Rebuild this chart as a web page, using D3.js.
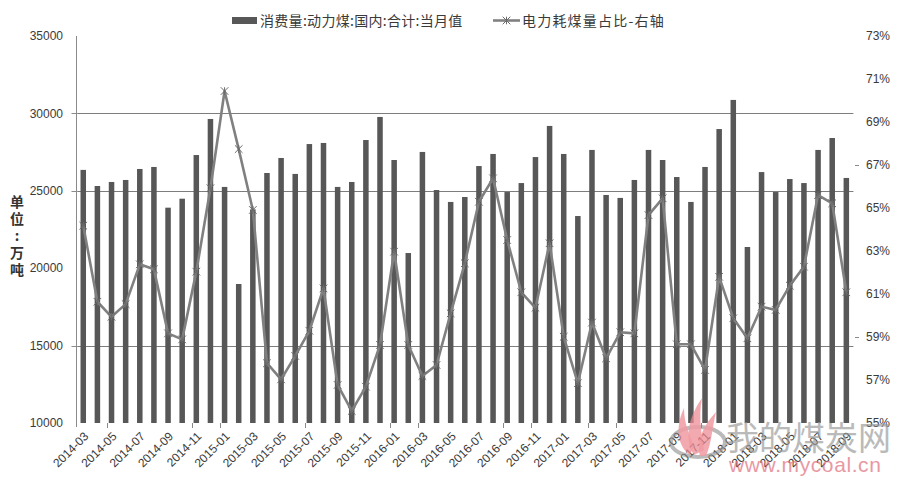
<!DOCTYPE html>
<html>
<head>
<meta charset="utf-8">
<script src="https://cdn.jsdelivr.net/npm/d3@7/dist/d3.min.js"></script>
<style>
  body { margin: 0; background: #fff; }
  svg { display: block; font-family: "Liberation Sans", Arial, "Noto Sans CJK SC", sans-serif; }
</style>
</head>
<body>
<script>
// ---------------- DATA ----------------
const categories = [
  "2014-03","2014-04","2014-05","2014-06","2014-07","2014-08","2014-09","2014-10","2014-11","2014-12",
  "2015-01","2015-02","2015-03","2015-04","2015-05","2015-06","2015-07","2015-08","2015-09","2015-10","2015-11","2015-12",
  "2016-01","2016-02","2016-03","2016-04","2016-05","2016-06","2016-07","2016-08","2016-09","2016-10","2016-11","2016-12",
  "2017-01","2017-02","2017-03","2017-04","2017-05","2017-06","2017-07","2017-08","2017-09","2017-10","2017-11","2017-12",
  "2018-01","2018-02","2018-03","2018-04","2018-05","2018-06","2018-07","2018-08","2018-09"
];
// 消费量:动力煤:国内:合计:当月值 (万吨)
const consumption = [
  26350,25310,25570,25700,26410,26540,23910,24490,27310,29640,
  25250,18980,23800,26150,27120,26090,28020,28090,25250,25570,28280,29770,
  26990,20980,27510,25050,24280,24600,26600,27380,24920,25500,27180,29190,
  27380,23370,27640,24730,24540,25700,27640,26990,25890,24280,26540,28990,
  30870,21370,26210,24920,25760,25500,27640,28410,25830
];
// 电力耗煤量占比 (%), right axis
const powerShare = [
  64.18,60.64,59.94,60.53,62.38,62.15,59.17,58.89,62.04,65.92,
  70.44,67.74,64.91,57.78,57.03,58.12,59.29,61.26,56.77,55.56,56.69,58.63,
  62.97,58.63,57.19,57.70,60.10,62.43,65.29,66.38,63.51,61.08,60.36,63.36,
  59.01,56.85,59.67,58.01,59.22,59.17,64.67,65.45,58.66,58.66,57.47,61.80,
  59.87,58.94,60.41,60.26,61.39,62.27,65.60,65.22,61.08
];
const leftTickValues = [10000,15000,20000,25000,30000,35000];
const leftGridValues = [15000,25000,30000];
const rightTickValues = [55,57,59,61,63,65,67,69,71,73];
const rightTickMarkValues = [59,67];
const xLabelCategories = categories.filter((d,i) => i % 2 === 0);
const xTickAfterCategories = ["2014-04","2014-10","2014-12","2015-06","2015-12","2016-02","2016-08","2016-10","2017-02","2017-04","2017-10"];
const seriesNames = ["消费量:动力煤:国内:合计:当月值", "电力耗煤量占比-右轴"];
const yAxisTitle = "单位:万吨";

// ---------------- CHART ----------------
const W = 900, H = 482;
const plot = {left: 76.2, right: 853.4, top: 36, bottom: 423};
const svg = d3.select("body").append("svg").attr("width", W).attr("height", H);

const x = d3.scaleBand().domain(categories).range([plot.left, plot.right])
  .paddingInner(0.61).paddingOuter(0.305);
const cx = d => x(d) + x.bandwidth() / 2;
const yL = d3.scaleLinear().domain([10000, 35000]).range([plot.bottom, plot.top]);
const yR = d3.scaleLinear().domain([55, 73]).range([plot.bottom, plot.top]);

const textColor = "#3a3a3a";
const gridColor = "#7d7d7d";

// gridlines
svg.append("g").selectAll("line").data(leftGridValues).join("line")
  .attr("x1", plot.left + 1).attr("x2", plot.right)
  .attr("y1", d => Math.round(yL(d)) + 0.5).attr("y2", d => Math.round(yL(d)) + 0.5)
  .attr("stroke", gridColor).attr("stroke-width", 1);

// bars
svg.append("g").selectAll("rect").data(categories).join("rect")
  .attr("x", d => x(d)).attr("width", x.bandwidth())
  .attr("y", (d, i) => yL(consumption[i]))
  .attr("height", (d, i) => yL(10000) - yL(consumption[i]))
  .attr("fill", "#575757");

// left axis line + ticks
const axX = Math.round(plot.left) + 0.5;
svg.append("line").attr("x1", axX).attr("x2", axX).attr("y1", plot.top).attr("y2", plot.bottom + 4)
  .attr("stroke", "#8a8a8a").attr("stroke-width", 1);
svg.append("g").selectAll("line").data(leftGridValues).join("line")
  .attr("x1", axX - 5).attr("x2", axX)
  .attr("y1", d => Math.round(yL(d)) + 0.5).attr("y2", d => Math.round(yL(d)) + 0.5)
  .attr("stroke", "#8a8a8a");
svg.append("g").selectAll("text").data(leftTickValues).join("text")
  .attr("x", 63).attr("y", d => yL(d)).attr("dy", "0.35em")
  .attr("text-anchor", "end").attr("font-size", 12).attr("fill", textColor)
  .text(d => d);

// right axis labels + ticks
svg.append("g").selectAll("text").data(rightTickValues).join("text")
  .attr("x", 866).attr("y", d => yR(d)).attr("dy", "0.35em")
  .attr("text-anchor", "start").attr("font-size", 12).attr("fill", textColor)
  .text(d => d + "%");
svg.append("g").selectAll("line").data(rightTickMarkValues).join("line")
  .attr("x1", 855).attr("x2", 859)
  .attr("y1", d => Math.round(yR(d)) + 0.5).attr("y2", d => Math.round(yR(d)) + 0.5)
  .attr("stroke", "#8a8a8a");

// x ticks (between categories)
svg.append("g").selectAll("line").data(xTickAfterCategories).join("line")
  .attr("x1", d => Math.round(x(d) + x.step() * 0.695 + x.bandwidth()/2 ) + 0.5)
  .attr("x2", d => Math.round(x(d) + x.step() * 0.695 + x.bandwidth()/2 ) + 0.5)
  .attr("y1", plot.bottom).attr("y2", plot.bottom + 5)
  .attr("stroke", "#8a8a8a");

// x labels
svg.append("g").selectAll("text").data(xLabelCategories).join("text")
  .attr("transform", d => `translate(${cx(d) + 3},${plot.bottom + 11}) rotate(-45)`)
  .attr("text-anchor", "end").attr("dy", "0.35em")
  .attr("font-size", 12).attr("fill", textColor)
  .text(d => d);

// line series
const line = d3.line().x((d, i) => cx(categories[i])).y(d => yR(d));
svg.append("path").datum(powerShare).attr("d", line)
  .attr("fill", "none").attr("stroke", "#808080").attr("stroke-width", 2.6)
  .attr("stroke-linejoin", "round");
const starPath = r => `M${-r},${-r}L${r},${r}M${-r},${r}L${r},${-r}M0,${-r}L0,${r}`;
svg.append("g").selectAll("path").data(powerShare).join("path")
  .attr("transform", (d, i) => `translate(${cx(categories[i])},${yR(d)})`)
  .attr("d", starPath(3.8))
  .attr("fill", "none").attr("stroke", "#6b6b6b").attr("stroke-width", 1);

// legend
const lg = svg.append("g").attr("font-size", 14).attr("fill", textColor);
lg.append("rect").attr("x", 232).attr("y", 17).attr("width", 25).attr("height", 7).attr("fill", "#575757");
lg.append("text").attr("x", 260).attr("y", 21).attr("dy", "0.35em").attr("fill", textColor)
  .attr("font-family", "'Noto Sans CJK SC', sans-serif").attr("letter-spacing", "0.3px")
  .text(seriesNames[0]);
lg.append("line").attr("x1", 493).attr("x2", 520).attr("y1", 20.5).attr("y2", 20.5)
  .attr("stroke", "#808080").attr("stroke-width", 2.6);
lg.append("path").attr("transform", "translate(506.5,20.5)").attr("d", starPath(3.8))
  .attr("fill", "none").attr("stroke", "#6b6b6b");
lg.append("text").attr("x", 522).attr("y", 21).attr("dy", "0.35em").attr("fill", textColor)
  .attr("font-family", "'Noto Sans CJK SC', sans-serif").attr("letter-spacing", "1.2px")
  .text(seriesNames[1]);

// y axis title (vertical, upright characters)
svg.append("text")
  .attr("x", 17).attr("y", 195)
  .attr("font-size", 14).attr("font-weight", "bold")
  .attr("font-family", "'Noto Sans CJK SC', sans-serif").attr("fill", "#333")
  .style("writing-mode", "vertical-rl").style("text-orientation", "upright")
  .attr("letter-spacing", "3px")
  .text(yAxisTitle);

// watermark
const wm = svg.append("g").attr("opacity", 0.85);
wm.append("ellipse").attr("cx", 698).attr("cy", 442).attr("rx", 27).attr("ry", 15)
  .attr("fill", "none").attr("stroke", "#8c8c8c").attr("stroke-width", 4).attr("opacity", 0.7);
const flames = [
  "M690,455 C676,445 676,425 684,408 C684,425 690,435 694,446 Z",
  "M694,455 C684,440 688,418 702,398 C698,418 702,435 704,450 Z",
  "M700,456 C696,440 704,425 716,412 C712,428 712,442 706,456 Z"
];
wm.selectAll("path.fl").data(flames).join("path").attr("class", "fl")
  .attr("d", d => d).attr("fill", "#ef8a93").attr("opacity", 0.85);
wm.append("text").attr("x", 726).attr("y", 450).attr("font-size", 33)
  .attr("font-family", "'Noto Sans CJK SC', sans-serif").attr("fill", "#9a9a9a").attr("opacity", 0.8)
  .text("我的煤炭网");
wm.append("text").attr("x", 729).attr("y", 472).attr("font-size", 21)
  .attr("fill", "#e06a78").attr("opacity", 0.8).attr("letter-spacing", "0.6px")
  .text("www.mycoal.cn");
</script>
</body>
</html>
